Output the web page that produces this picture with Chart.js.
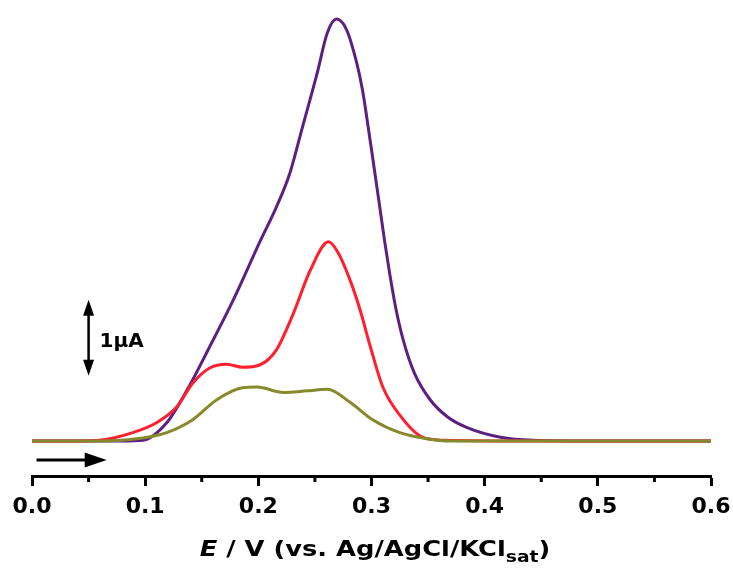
<!DOCTYPE html>
<html>
<head>
<meta charset="utf-8">
<script src="https://cdn.jsdelivr.net/npm/chart.js@4"></script>
<style>
  body { margin: 0; background: #fff; }
  #wrap { position: relative; width: 733px; height: 575px; }
  #xtitle {
    position: absolute; left: 0; width: 750px; top: 538px;
    text-align: center; font: bold 22px "DejaVu Sans", sans-serif;
    line-height: 22px; color: #000; white-space: nowrap;
    transform: scaleX(1.17); transform-origin: 375px 0;
  }
  #xtitle sub { font-size: 16px; vertical-align: -6px; line-height: 0; }
</style>
</head>
<body>
<div id="wrap">
  <canvas id="chart" width="733" height="575"></canvas>
  <div id="xtitle"><i>E</i> / V (vs. Ag/AgCl/KCl<sub>sat</sub>)</div>
</div>
<script>
// potential (V) and current above baseline (µA)
const purpleE = [0.00, 0.05, 0.080, 0.098, 0.119, 0.137, 0.157, 0.178, 0.201, 0.216, 0.228, 0.239, 0.252, 0.261, 0.269, 0.278, 0.287, 0.292, 0.2955, 0.3013, 0.307, 0.3115, 0.316, 0.3213, 0.328, 0.338, 0.352, 0.367, 0.384, 0.414, 0.443, 0.50, 0.60];
const purpleI = [0.00, 0.00, 0.00, 0.01, 0.24, 0.67, 1.24, 1.86, 2.61, 3.08, 3.53, 4.13, 4.84, 5.37, 5.55, 5.41, 4.97, 4.62, 4.29, 3.70, 3.11, 2.64, 2.21, 1.76, 1.33, 0.89, 0.54, 0.32, 0.18, 0.05, 0.01, 0.00, 0.00];

const redE = [0.00, 0.04, 0.060, 0.089, 0.110, 0.128, 0.142, 0.157, 0.172, 0.186, 0.201, 0.216, 0.231, 0.246, 0.262, 0.270, 0.281, 0.290, 0.299, 0.310, 0.325, 0.345, 0.363, 0.45, 0.60];
const redI = [0.00, 0.00, 0.01, 0.11, 0.24, 0.45, 0.76, 0.96, 1.01, 0.97, 1.00, 1.20, 1.68, 2.25, 2.62, 2.49, 2.12, 1.72, 1.24, 0.71, 0.34, 0.05, 0.01, 0.00, 0.00];

const greenE = [0.00, 0.06, 0.098, 0.119, 0.142, 0.163, 0.186, 0.199, 0.222, 0.243, 0.261, 0.281, 0.301, 0.325, 0.349, 0.37, 0.50, 0.60];
const greenI = [0.00, 0.00, 0.04, 0.11, 0.28, 0.54, 0.70, 0.71, 0.64, 0.66, 0.68, 0.51, 0.28, 0.11, 0.03, 0.00, 0.00, 0.00];

const xTicks = [0.0, 0.1, 0.2, 0.3, 0.4, 0.5, 0.6];

const scaleBar = { e: 0.05, from: 0.86, to: 1.86, label: "1\u00b5A" };
const sweepArrow = { from: 0.004, to: 0.066, i: -0.25 };

function pts(es, is) {
    return es.map((e, k) => ({ x: e, y: is[k] }));
}

function isMajor(v) {
    return xTicks.some(t => Math.abs(t - v) < 1e-6);
}

// scale bar, sweep arrow and minor ticks
const extras = {
    id: "extras",
    afterDraw(chart) {
        const ctx = chart.ctx;
        const xs = chart.scales.x;
        const ys = chart.scales.y;
        ctx.save();
        ctx.fillStyle = "#000";
        ctx.strokeStyle = "#000";

        // minor ticks
        ctx.lineWidth = 3;
        const yb = chart.chartArea.bottom;
        xs.ticks.forEach(t => {
            if (!isMajor(t.value)) {
                const px = xs.getPixelForValue(t.value);
                ctx.beginPath();
                ctx.moveTo(px, yb);
                ctx.lineTo(px, yb + 6);
                ctx.stroke();
            }
        });

        // 1 µA scale bar
        const bx = xs.getPixelForValue(scaleBar.e);
        const yTop = ys.getPixelForValue(scaleBar.to);
        const yBot = ys.getPixelForValue(scaleBar.from);
        ctx.lineWidth = 2.5;
        ctx.beginPath();
        ctx.moveTo(bx, yTop + 10);
        ctx.lineTo(bx, yBot - 10);
        ctx.stroke();
        ctx.beginPath();
        ctx.moveTo(bx, yTop);
        ctx.lineTo(bx - 5.5, yTop + 16);
        ctx.lineTo(bx + 5.5, yTop + 16);
        ctx.closePath();
        ctx.fill();
        ctx.beginPath();
        ctx.moveTo(bx, yBot);
        ctx.lineTo(bx - 5.5, yBot - 16);
        ctx.lineTo(bx + 5.5, yBot - 16);
        ctx.closePath();
        ctx.fill();
        ctx.font = "bold 20px 'DejaVu Sans', sans-serif";
        ctx.textBaseline = "middle";
        ctx.fillText(scaleBar.label, bx + 11, (yTop + yBot) / 2 + 4);

        // sweep direction arrow
        const ax0 = xs.getPixelForValue(sweepArrow.from);
        const ax1 = xs.getPixelForValue(sweepArrow.to);
        const ay = ys.getPixelForValue(sweepArrow.i);
        ctx.lineWidth = 3;
        ctx.beginPath();
        ctx.moveTo(ax0, ay);
        ctx.lineTo(ax1 - 15, ay);
        ctx.stroke();
        ctx.beginPath();
        ctx.moveTo(ax1, ay);
        ctx.lineTo(ax1 - 22, ay - 7.5);
        ctx.lineTo(ax1 - 22, ay + 7.5);
        ctx.closePath();
        ctx.fill();
        ctx.restore();
    }
};

const ctx = document.getElementById("chart").getContext("2d");
const chart = new Chart(ctx, {
    type: "line",
    data: {
        datasets: [
            {
                label: "c",
                data: pts(greenE, greenI),
                borderColor: "#86892c",
                borderWidth: 3,
                pointRadius: 0,
                cubicInterpolationMode: "monotone",
                fill: false,
            },
            {
                label: "b",
                data: pts(redE, redI),
                borderColor: "#ff1f2d",
                borderWidth: 3,
                pointRadius: 0,
                cubicInterpolationMode: "monotone",
                fill: false,
            },
            {
                label: "a",
                data: pts(purpleE, purpleI),
                borderColor: "#5e2080",
                borderWidth: 3,
                pointRadius: 0,
                cubicInterpolationMode: "monotone",
                fill: false,
            },
        ],
    },
    options: {
        responsive: false,
        animation: false,
        layout: { padding: { top: 10, left: 32, right: 22, bottom: 0 } },
        plugins: { legend: { display: false }, tooltip: { enabled: false } },
        scales: {
            x: {
                type: "linear",
                min: 0,
                max: 0.6,
                afterFit(scale) {
                    scale.height = 99;
                    scale.paddingLeft = 0;
                    scale.paddingRight = 0;
                },
                border: { display: true, color: "#000", width: 3 },
                grid: {
                    drawOnChartArea: false,
                    drawTicks: true,
                    tickLength: 10,
                    tickWidth: 3,
                    tickColor: c => (c.tick && isMajor(c.tick.value) ? "#000" : "rgba(0,0,0,0)"),
                },
                ticks: {
                    stepSize: 0.05,
                    autoSkip: false,
                    maxRotation: 0,
                    padding: 8,
                    color: "#000",
                    font: { family: "'DejaVu Sans', sans-serif", size: 22, weight: "bold" },
                    callback: v => (isMajor(v) ? v.toFixed(1) : ""),
                },
            },
            y: {
                display: false,
                min: -0.46,
                max: 5.67,
            },
        },
    },
    plugins: [extras],
});
</script>
</body>
</html>
